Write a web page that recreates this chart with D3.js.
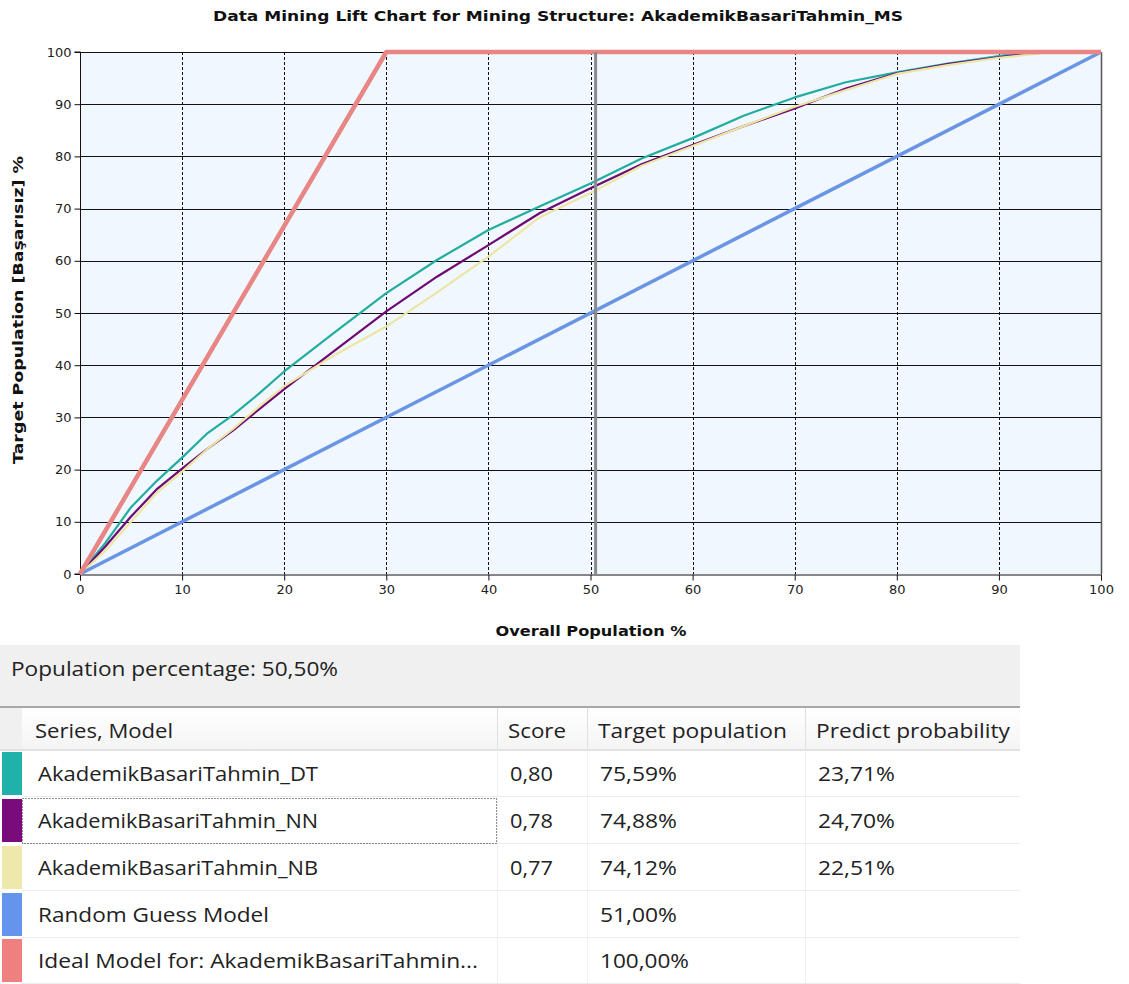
<!DOCTYPE html>
<html>
<head>
<meta charset="utf-8">
<script src="https://cdn.jsdelivr.net/npm/d3@7"></script>
<style>
  html, body { margin: 0; padding: 0; background: #ffffff; }
  svg { display: block; }
</style>
</head>
<body>
<svg id="chart" width="1129" height="984"></svg>
<script>
// ---------------- DATA ----------------
const chartTitle = "Data Mining Lift Chart for Mining Structure: AkademikBasariTahmin_MS";
const xLabel = "Overall Population %";
const yLabel = "Target Population [Başarısız] %";
const xTicks = [0, 10, 20, 30, 40, 50, 60, 70, 80, 90, 100];
const yTicks = [0, 10, 20, 30, 40, 50, 60, 70, 80, 90, 100];

const popPct = [0, 2.5, 5, 7.5, 10, 12.5, 15, 17.5, 20, 25, 30, 35, 40, 45, 50, 55, 60, 65, 70, 75, 80, 85, 90, 92.5, 95, 100];
const dtValues = [0, 6, 12.8, 17.8, 22.3, 27, 30.5, 34.5, 38.8, 46.4, 53.8, 60.2, 65.9, 70.4, 74.8, 79.6, 83.5, 87.8, 91.3, 94.2, 96.1, 97.8, 99.2, 100, 100, 100];
const nnValues = [0, 5.3, 11, 16.2, 20.2, 24, 27.5, 31.5, 35.4, 42.9, 50.3, 57, 63, 69.1, 73.9, 78.5, 82.2, 85.8, 89.2, 93, 95.9, 97.7, 99, 99.6, 100, 100];
const nbValues = [0, 4.5, 10, 15.5, 19.6, 24, 27.8, 32, 36, 42, 47.4, 54, 60.8, 68.3, 73, 78.2, 82, 85.8, 89.5, 92.7, 95.8, 97.5, 98.9, 99.4, 100, 100];
const randomX = [0, 100];
const randomY = [0, 100];
const idealX = [0, 30, 100];
const idealY = [0, 100, 100];
const markerPct = 50.5;

const populationText = "Population percentage: 50,50%";
const tableHeaders = ["Series, Model", "Score", "Target population", "Predict probability"];
const seriesNames = ["AkademikBasariTahmin_DT", "AkademikBasariTahmin_NN", "AkademikBasariTahmin_NB", "Random Guess Model", "Ideal Model for: AkademikBasariTahmin..."];
const scores = ["0,80", "0,78", "0,77", "", ""];
const targetPops = ["75,59%", "74,88%", "74,12%", "51,00%", "100,00%"];
const predictProbs = ["23,71%", "24,70%", "22,51%", "", ""];
const seriesColors = ["#20b2aa", "#7b0a7b", "#eee8aa", "#6495ed", "#f08080"];

// ---------------- CHART ----------------
const svg = d3.select("#chart");
const M = { left: 80, right: 1101, top: 52, bottom: 574 };

const x = d3.scaleLinear().domain([0, 100]).range([M.left, M.right]);
const y = d3.scaleLinear().domain([0, 100]).range([M.bottom, M.top]);

svg.append("rect").attr("x", 0).attr("y", 0).attr("width", 1129).attr("height", 984).attr("fill", "#ffffff");

// plot background
svg.append("rect")
  .attr("x", M.left).attr("y", M.top)
  .attr("width", M.right - M.left).attr("height", M.bottom - M.top)
  .attr("fill", "#f0f7fe");

// horizontal gridlines (solid)
svg.append("g").selectAll("line").data(yTicks.filter(d => d > 0)).join("line")
  .attr("x1", M.left).attr("x2", M.right)
  .attr("y1", d => Math.round(y(d)) + 0.5).attr("y2", d => Math.round(y(d)) + 0.5)
  .attr("stroke", "#111").attr("stroke-width", 1);

// vertical gridlines (dashed)
svg.append("g").selectAll("line").data(xTicks.filter(d => d > 0 && d < 100)).join("line")
  .attr("x1", d => Math.round(x(d)) + 0.5).attr("x2", d => Math.round(x(d)) + 0.5)
  .attr("y1", M.top).attr("y2", M.bottom)
  .attr("stroke", "#111").attr("stroke-width", 1).attr("stroke-dasharray", "3,2");

// right border
svg.append("line").attr("x1", M.right + 0.5).attr("x2", M.right + 0.5).attr("y1", M.top).attr("y2", M.bottom)
  .attr("stroke", "#555").attr("stroke-width", 1.5);

// axes
const xAxis = d3.axisBottom(x).tickValues(xTicks).tickSize(6).tickPadding(4).tickFormat(d3.format("d"));
const yAxis = d3.axisLeft(y).tickValues(yTicks).tickSize(6).tickPadding(3).tickFormat(d3.format("d"));

const gx = svg.append("g").attr("transform", `translate(0,${M.bottom + 0.5})`).call(xAxis);
const gy = svg.append("g").attr("transform", `translate(${M.left + 0.5},0)`).call(yAxis);
[gx, gy].forEach(g => {
  g.select(".domain").attr("stroke", "#111");
  g.selectAll(".tick line").attr("stroke", "#111");
  g.selectAll(".tick text").attr("font-family", "DejaVu Sans, Verdana, sans-serif").attr("font-size", 13).attr("fill", "#222");
});
gy.select(".domain").attr("d", `M-6,${M.bottom}H0V${M.top}H-6`);

// series lines
const line = d3.line().x(d => x(d[0])).y(d => y(d[1]));
const zipS = (xs, ys) => xs.map((v, i) => [v, ys[i]]);

const plot = svg.append("g");
plot.append("path").datum(zipS(popPct, dtValues)).attr("d", line)
  .attr("fill", "none").attr("stroke", "#22ad9f").attr("stroke-width", 2.2).attr("stroke-linejoin", "round");
plot.append("path").datum(zipS(popPct, nnValues)).attr("d", line)
  .attr("fill", "none").attr("stroke", "#6e0a72").attr("stroke-width", 2.2).attr("stroke-linejoin", "round");
plot.append("path").datum(zipS(popPct, nbValues)).attr("d", line)
  .attr("fill", "none").attr("stroke", "#ebe6a6").attr("stroke-width", 2.2).attr("stroke-linejoin", "round");
plot.append("path").datum(zipS(randomX, randomY)).attr("d", line)
  .attr("fill", "none").attr("stroke", "#6a94e4").attr("stroke-width", 3.5);
plot.append("path").datum(zipS(idealX, idealY)).attr("d", line)
  .attr("fill", "none").attr("stroke", "#e88585").attr("stroke-width", 4.5).attr("stroke-linejoin", "round");

// marker
svg.append("line")
  .attr("x1", x(markerPct)).attr("x2", x(markerPct))
  .attr("y1", M.top).attr("y2", M.bottom)
  .attr("stroke", "#8a8a8a").attr("stroke-width", 3);

// title & labels
svg.append("text").attr("x", 558).attr("y", 21).attr("text-anchor", "middle")
  .attr("font-family", "DejaVu Sans, Verdana, sans-serif").attr("font-weight", "bold").attr("font-size", 14)
  .attr("textLength", 690).attr("lengthAdjust", "spacingAndGlyphs").attr("fill", "#111")
  .text(chartTitle);

svg.append("text").attr("x", 591).attr("y", 636).attr("text-anchor", "middle")
  .attr("font-family", "DejaVu Sans, Verdana, sans-serif").attr("font-weight", "bold").attr("font-size", 14)
  .attr("textLength", 191).attr("lengthAdjust", "spacingAndGlyphs").attr("fill", "#111")
  .text(xLabel);

svg.append("text").attr("transform", "translate(23,310) rotate(-90)").attr("text-anchor", "middle")
  .attr("font-family", "DejaVu Sans, Verdana, sans-serif").attr("font-weight", "bold").attr("font-size", 14)
  .attr("textLength", 308).attr("lengthAdjust", "spacingAndGlyphs").attr("fill", "#111")
  .text(yLabel);

// ---------------- TABLE ----------------
const T = { left: 0, right: 1020, panelTop: 645, panelBottom: 706, headTop: 708, headBottom: 750 };
const rowTops = [751, 798, 845, 892, 938];
const rowH = 46;
const colX = [497, 587, 805];
const textFont = "Open Sans, Noto Sans, sans-serif";
const tFs = 20;

svg.append("rect").attr("x", T.left).attr("y", T.panelTop).attr("width", T.right).attr("height", T.panelBottom - T.panelTop).attr("fill", "#f0f0f0");
svg.append("text").attr("x", 11).attr("y", 676).attr("font-family", textFont).attr("font-size", tFs).attr("fill", "#222")
  .attr("textLength", 327).attr("lengthAdjust", "spacingAndGlyphs").text(populationText);
svg.append("rect").attr("x", T.left).attr("y", T.panelBottom).attr("width", T.right).attr("height", 2).attr("fill", "#a8a8a8");

// header
const headGrad = svg.append("defs").append("linearGradient").attr("id", "hg").attr("x1", 0).attr("x2", 0).attr("y1", 0).attr("y2", 1);
headGrad.append("stop").attr("offset", "0").attr("stop-color", "#ffffff");
headGrad.append("stop").attr("offset", "1").attr("stop-color", "#f4f4f4");
svg.append("rect").attr("x", 22).attr("y", T.headTop).attr("width", T.right - 22).attr("height", T.headBottom - T.headTop).attr("fill", "url(#hg)");
svg.append("rect").attr("x", 0).attr("y", T.headTop).attr("width", 22).attr("height", T.headBottom - T.headTop).attr("fill", "#f0f0f0");
svg.append("rect").attr("x", 0).attr("y", T.headBottom - 1).attr("width", T.right).attr("height", 2).attr("fill", "#e2e2e2");

const headX = [35, 508, 598, 816];
const headW = [138, 58, 189, 194];
tableHeaders.forEach((h, i) => {
  svg.append("text").attr("x", headX[i]).attr("y", 738).attr("font-family", textFont).attr("font-size", tFs).attr("fill", "#222")
    .attr("textLength", headW[i]).attr("lengthAdjust", "spacingAndGlyphs").text(h);
});
colX.forEach(cx => {
  svg.append("line").attr("x1", cx + 0.5).attr("x2", cx + 0.5).attr("y1", T.headTop).attr("y2", T.headBottom)
    .attr("stroke", "#e0e0e0");
  svg.append("line").attr("x1", cx + 0.5).attr("x2", cx + 0.5).attr("y1", T.headBottom).attr("y2", 984)
    .attr("stroke", "#f0f0f0");
});

// rows
const nameW = [280, 280, 280, 231, 440];
seriesNames.forEach((name, i) => {
  const top = rowTops[i];
  const base = top + 30;
  svg.append("rect").attr("x", 2).attr("y", top + 1).attr("width", 20).attr("height", rowH - 3).attr("fill", seriesColors[i]);
  svg.append("line").attr("x1", 22).attr("x2", T.right).attr("y1", top + rowH - 0.5).attr("y2", top + rowH - 0.5).attr("stroke", "#ececec");
  svg.append("text").attr("x", 38).attr("y", base).attr("font-family", textFont).attr("font-size", tFs).attr("fill", "#222")
    .attr("textLength", nameW[i]).attr("lengthAdjust", "spacingAndGlyphs").text(name);
  if (scores[i]) svg.append("text").attr("x", 510).attr("y", base).attr("font-family", textFont).attr("font-size", tFs).attr("fill", "#222")
    .attr("textLength", 43).attr("lengthAdjust", "spacingAndGlyphs").text(scores[i]);
  if (targetPops[i]) svg.append("text").attr("x", 600).attr("y", base).attr("font-family", textFont).attr("font-size", tFs).attr("fill", "#222")
    .attr("textLength", targetPops[i].length > 6 ? 89 : 77).attr("lengthAdjust", "spacingAndGlyphs").text(targetPops[i]);
  if (predictProbs[i]) svg.append("text").attr("x", 818).attr("y", base).attr("font-family", textFont).attr("font-size", tFs).attr("fill", "#222")
    .attr("textLength", 77).attr("lengthAdjust", "spacingAndGlyphs").text(predictProbs[i]);
});

// focus rectangle on second row
svg.append("rect").attr("x", 22.5).attr("y", rowTops[1] + 0.5).attr("width", 474).attr("height", rowH - 1)
  .attr("fill", "none").attr("stroke", "#222").attr("stroke-width", 1).attr("stroke-dasharray", "1,2");
</script>
</body>
</html>
